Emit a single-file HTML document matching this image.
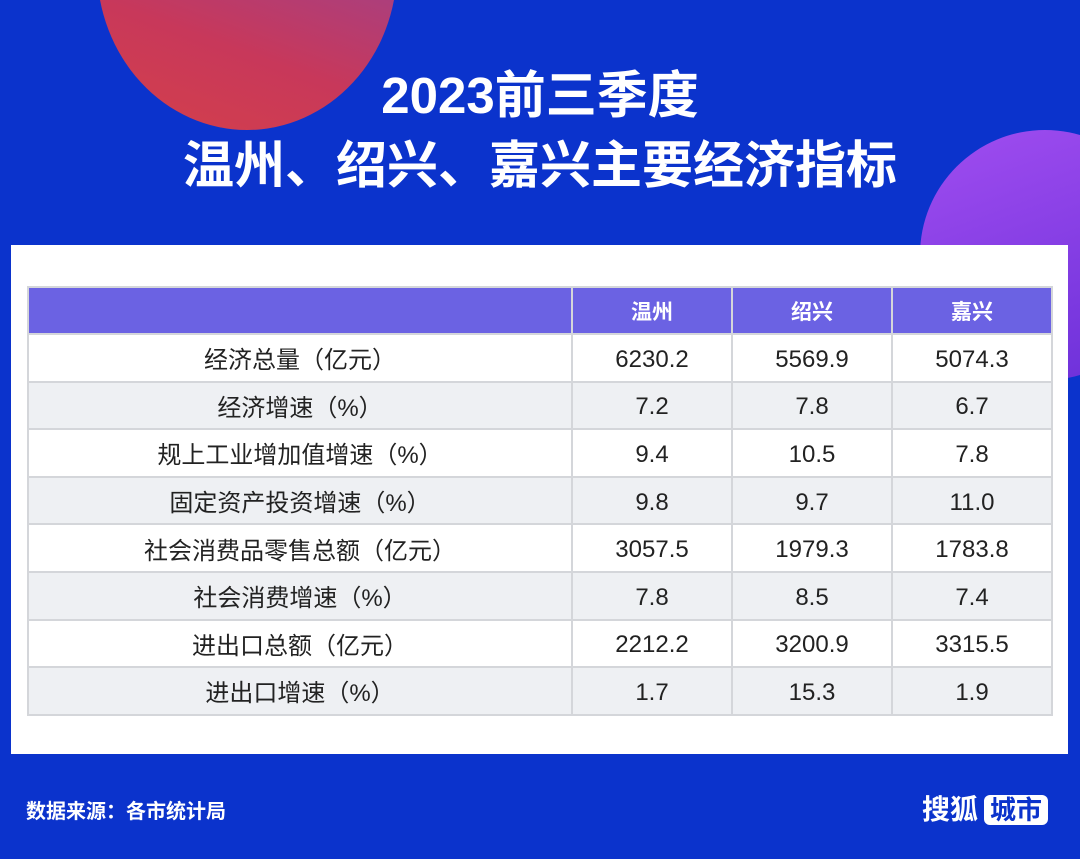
<!DOCTYPE html>
<html><head><meta charset="utf-8"><style>
body{margin:0;width:1080px;height:859px;overflow:hidden;background:#0b33cc;font-family:"Liberation Sans","Noto Sans CJK SC",sans-serif;position:relative}
.c1{position:absolute;left:97px;top:-195px;width:300px;height:325px;border-radius:50%;background:linear-gradient(200deg,#7a4ab8 0%,#c8385a 70%,#d4404a 100%)}
.c2{position:absolute;left:920px;top:130px;width:250px;height:250px;border-radius:50%;background:linear-gradient(160deg,#a04df0,#6a2fd8)}
h1{position:absolute;left:0;width:1080px;text-align:center;color:#fff;font-weight:bold;margin:0;font-size:51px;line-height:60px}
.panel{position:absolute;left:11px;top:245px;width:1057px;height:509px;background:#fff}
table{position:absolute;left:27px;top:286px;border-collapse:collapse;table-layout:fixed}
td{border:2px solid #d4d6da;height:45.6px;text-align:center;font-size:24px;color:#222;padding:0}
td b{font-weight:normal;position:relative;top:2px}
tr.h td{background:#6b62e3;color:#fff;font-weight:bold;font-size:21px;height:45px}
tr:nth-child(odd):not(.h) td{background:#eef0f3}
.src{position:absolute;left:26px;top:795px;color:#fff;font-size:20px;font-weight:bold}
.logo{position:absolute;left:922px;top:788px;color:#fff;font-size:28px;font-weight:bold}
.logo span{background:#fff;color:#0b33cc;border-radius:6px;padding:0 6px;margin-left:6px;font-size:26px}
</style></head><body>
<div class="c1"></div><div class="c2"></div>
<h1 style="top:66px">2023前三季度</h1>
<h1 style="top:136px">温州、绍兴、嘉兴主要经济指标</h1>
<div class="panel"></div>
<table>
<colgroup><col style="width:544px"><col style="width:160px"><col style="width:160px"><col style="width:160px"></colgroup>
<tr class="h"><td></td><td>温州</td><td>绍兴</td><td>嘉兴</td></tr>
<tr><td>经济总量（亿元）</td><td><b>6230.2</b></td><td><b>5569.9</b></td><td><b>5074.3</b></td></tr>
<tr><td>经济增速（%）</td><td><b>7.2</b></td><td><b>7.8</b></td><td><b>6.7</b></td></tr>
<tr><td>规上工业增加值增速（%）</td><td><b>9.4</b></td><td><b>10.5</b></td><td><b>7.8</b></td></tr>
<tr><td>固定资产投资增速（%）</td><td><b>9.8</b></td><td><b>9.7</b></td><td><b>11.0</b></td></tr>
<tr><td>社会消费品零售总额（亿元）</td><td><b>3057.5</b></td><td><b>1979.3</b></td><td><b>1783.8</b></td></tr>
<tr><td>社会消费增速（%）</td><td><b>7.8</b></td><td><b>8.5</b></td><td><b>7.4</b></td></tr>
<tr><td>进出口总额（亿元）</td><td><b>2212.2</b></td><td><b>3200.9</b></td><td><b>3315.5</b></td></tr>
<tr><td>进出口增速（%）</td><td><b>1.7</b></td><td><b>15.3</b></td><td><b>1.9</b></td></tr>
</table>
<div class="src">数据来源：各市统计局</div>
<div class="logo">搜狐<span>城市</span></div>
</body></html>
